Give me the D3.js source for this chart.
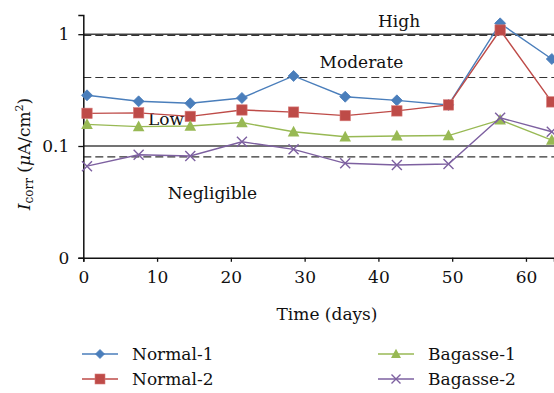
<!DOCTYPE html>
<html><head><meta charset="utf-8">
<script src="https://cdn.jsdelivr.net/npm/d3@7"></script>
<style>body{margin:0;background:#fff}svg{display:block}text{font-family:"DejaVu Serif",serif;fill:#111}</style>
</head><body>
<script>
const days = [0.5, 7.5, 14.5, 21.5, 28.5, 35.5, 42.5, 49.5, 56.5, 63.5];
const normal1 = [0.284, 0.251, 0.241, 0.269, 0.423, 0.276, 0.256, 0.233, 1.25, 0.600];
const normal2 = [0.196, 0.198, 0.184, 0.210, 0.201, 0.187, 0.206, 0.233, 1.09, 0.248];
const bagasse1 = [0.156, 0.149, 0.151, 0.162, 0.134, 0.121, 0.123, 0.124, 0.171, 0.113];
const bagasse2 = [0.066, 0.0836, 0.0814, 0.109, 0.0934, 0.070, 0.0676, 0.069, 0.179, 0.134];
const seriesNames = ["Normal-1", "Normal-2", "Bagasse-1", "Bagasse-2"];
const seriesColors = ["#4a7ebb", "#be4b48", "#98b954", "#7d60a0"];
const seriesShapes = ["diamond", "square", "triangle", "cross"];
const xTicks = [0, 10, 20, 30, 40, 50, 60];
const yTicks = [0.01, 0.1, 1];
const yTickLabels = ["0", "0.1", "1"];
const refLines = [
  {v: 1, dash: false}, {v: 0.975, dash: true}, {v: 0.41, dash: true},
  {v: 0.1, dash: false}, {v: 0.08, dash: true}
];
const zoneLabels = [
  {t: "High", x: 42.8, v: 1.17},
  {t: "Moderate", x: 37.7, v: 0.50},
  {t: "Low", x: 11.2, v: 0.155},
  {t: "Negligible", x: 17.5, v: 0.0336}
];

const W = 554, H = 393;
const svg = d3.select("body").append("svg").attr("width", W).attr("height", H);
const x = d3.scaleLinear().domain([0, 63.8]).range([83.3, 554]);
const y = d3.scaleLog().domain([0.01, 1.485]).range([257.8, 15]);

// reference lines
refLines.forEach(r => {
  svg.append("line").attr("x1", x(0)).attr("x2", W).attr("y1", y(r.v)).attr("y2", y(r.v))
    .attr("stroke", r.dash ? "#333" : "#444").attr("stroke-width", r.dash ? 1.2 : 1.5)
    .attr("stroke-dasharray", r.dash ? "8,4" : null);
});

// zone labels
zoneLabels.forEach(z => {
  svg.append("text").attr("x", x(z.x)).attr("y", y(z.v)).attr("text-anchor", "middle")
    .attr("font-size", 17).text(z.t);
});

// axes
const xAxis = svg.append("g").attr("transform", `translate(0,${y(0.01)})`)
  .call(d3.axisBottom(x).tickValues(xTicks).tickSize(4).tickFormat(d3.format("d")));
xAxis.select(".domain").attr("stroke", "#111").attr("stroke-width", 1.5);
xAxis.selectAll(".tick line").attr("stroke", "#111").attr("stroke-width", 1.3);
xAxis.selectAll(".tick text").attr("font-size", 17).attr("font-family", "DejaVu Serif").attr("fill", "#111").attr("dy", "1.05em");

const yAxis = svg.append("g").attr("transform", `translate(${x(0)},0)`)
  .call(d3.axisLeft(y).tickValues(yTicks).tickSize(5).tickFormat((d, i) => yTickLabels[i]));
yAxis.select(".domain").attr("stroke", "#111").attr("stroke-width", 1.5);
yAxis.selectAll(".tick line").attr("stroke", "#111").attr("stroke-width", 1.3);
yAxis.selectAll(".tick text").attr("font-size", 17).attr("font-family", "DejaVu Serif").attr("fill", "#111").attr("x", -14);

// axis titles
svg.append("text").attr("x", 327).attr("y", 320).attr("text-anchor", "middle").attr("font-size", 17).text("Time (days)");
const yl = svg.append("text").attr("transform", "translate(30,154) rotate(-90)").attr("text-anchor", "middle").attr("font-size", 17);
yl.append("tspan").attr("font-style", "italic").text("I");
yl.append("tspan").attr("font-size", 12).attr("dy", 3).text("corr");
yl.append("tspan").attr("dy", -3).text(" (");
yl.append("tspan").attr("font-style", "italic").text("μ");
yl.append("tspan").text("A/cm");
yl.append("tspan").attr("font-size", 11).attr("dy", -7).text("2");
yl.append("tspan").attr("dy", 7).text(")");

function marker(g, shape, cx, cy, color, s) {
  if (shape === "diamond") {
    g.append("path").attr("d", `M${cx},${cy - s}L${cx + s},${cy}L${cx},${cy + s}L${cx - s},${cy}Z`)
      .attr("fill", color).attr("stroke", color).attr("stroke-width", 0.8);
  } else if (shape === "square") {
    g.append("rect").attr("x", cx - s).attr("y", cy - s).attr("width", 2 * s).attr("height", 2 * s)
      .attr("fill", color).attr("stroke", "#d77a78").attr("stroke-width", 0.6);
  } else if (shape === "triangle") {
    g.append("path").attr("d", `M${cx},${cy - s * 1.05}L${cx + s},${cy + s * 0.8}L${cx - s},${cy + s * 0.8}Z`)
      .attr("fill", color);
  } else {
    g.append("path").attr("d", `M${cx - s},${cy - s}L${cx + s},${cy + s}M${cx - s},${cy + s}L${cx + s},${cy - s}`)
      .attr("stroke", color).attr("stroke-width", 1.4).attr("fill", "none");
  }
}

const allSeries = [normal1, normal2, bagasse1, bagasse2];
const line = d3.line().x((d, i) => x(days[i])).y(d => y(d));
allSeries.forEach((vals, k) => {
  const g = svg.append("g");
  g.append("path").datum(vals).attr("d", line).attr("fill", "none")
    .attr("stroke", seriesColors[k]).attr("stroke-width", 1.4);
  const sz = [5.5, 5.2, 5.8, 5][k];
  vals.forEach((v, i) => marker(g, seriesShapes[k], x(days[i]), y(v), seriesColors[k], sz));
});

// legend
const legPos = [[82, 354], [82, 379], [378, 354], [378, 379]];
seriesNames.forEach((n, k) => {
  const [lx, ly] = legPos[k];
  const g = svg.append("g");
  g.append("line").attr("x1", lx).attr("x2", lx + 36).attr("y1", ly).attr("y2", ly)
    .attr("stroke", seriesColors[k]).attr("stroke-width", 1.4);
  marker(g, seriesShapes[k], lx + 18, ly, seriesColors[k], [4.5, 5, 5, 4.5][k]);
  g.append("text").attr("x", lx + 50).attr("y", ly + 6).attr("font-size", 17).text(n);
});
</script>
</body></html>
